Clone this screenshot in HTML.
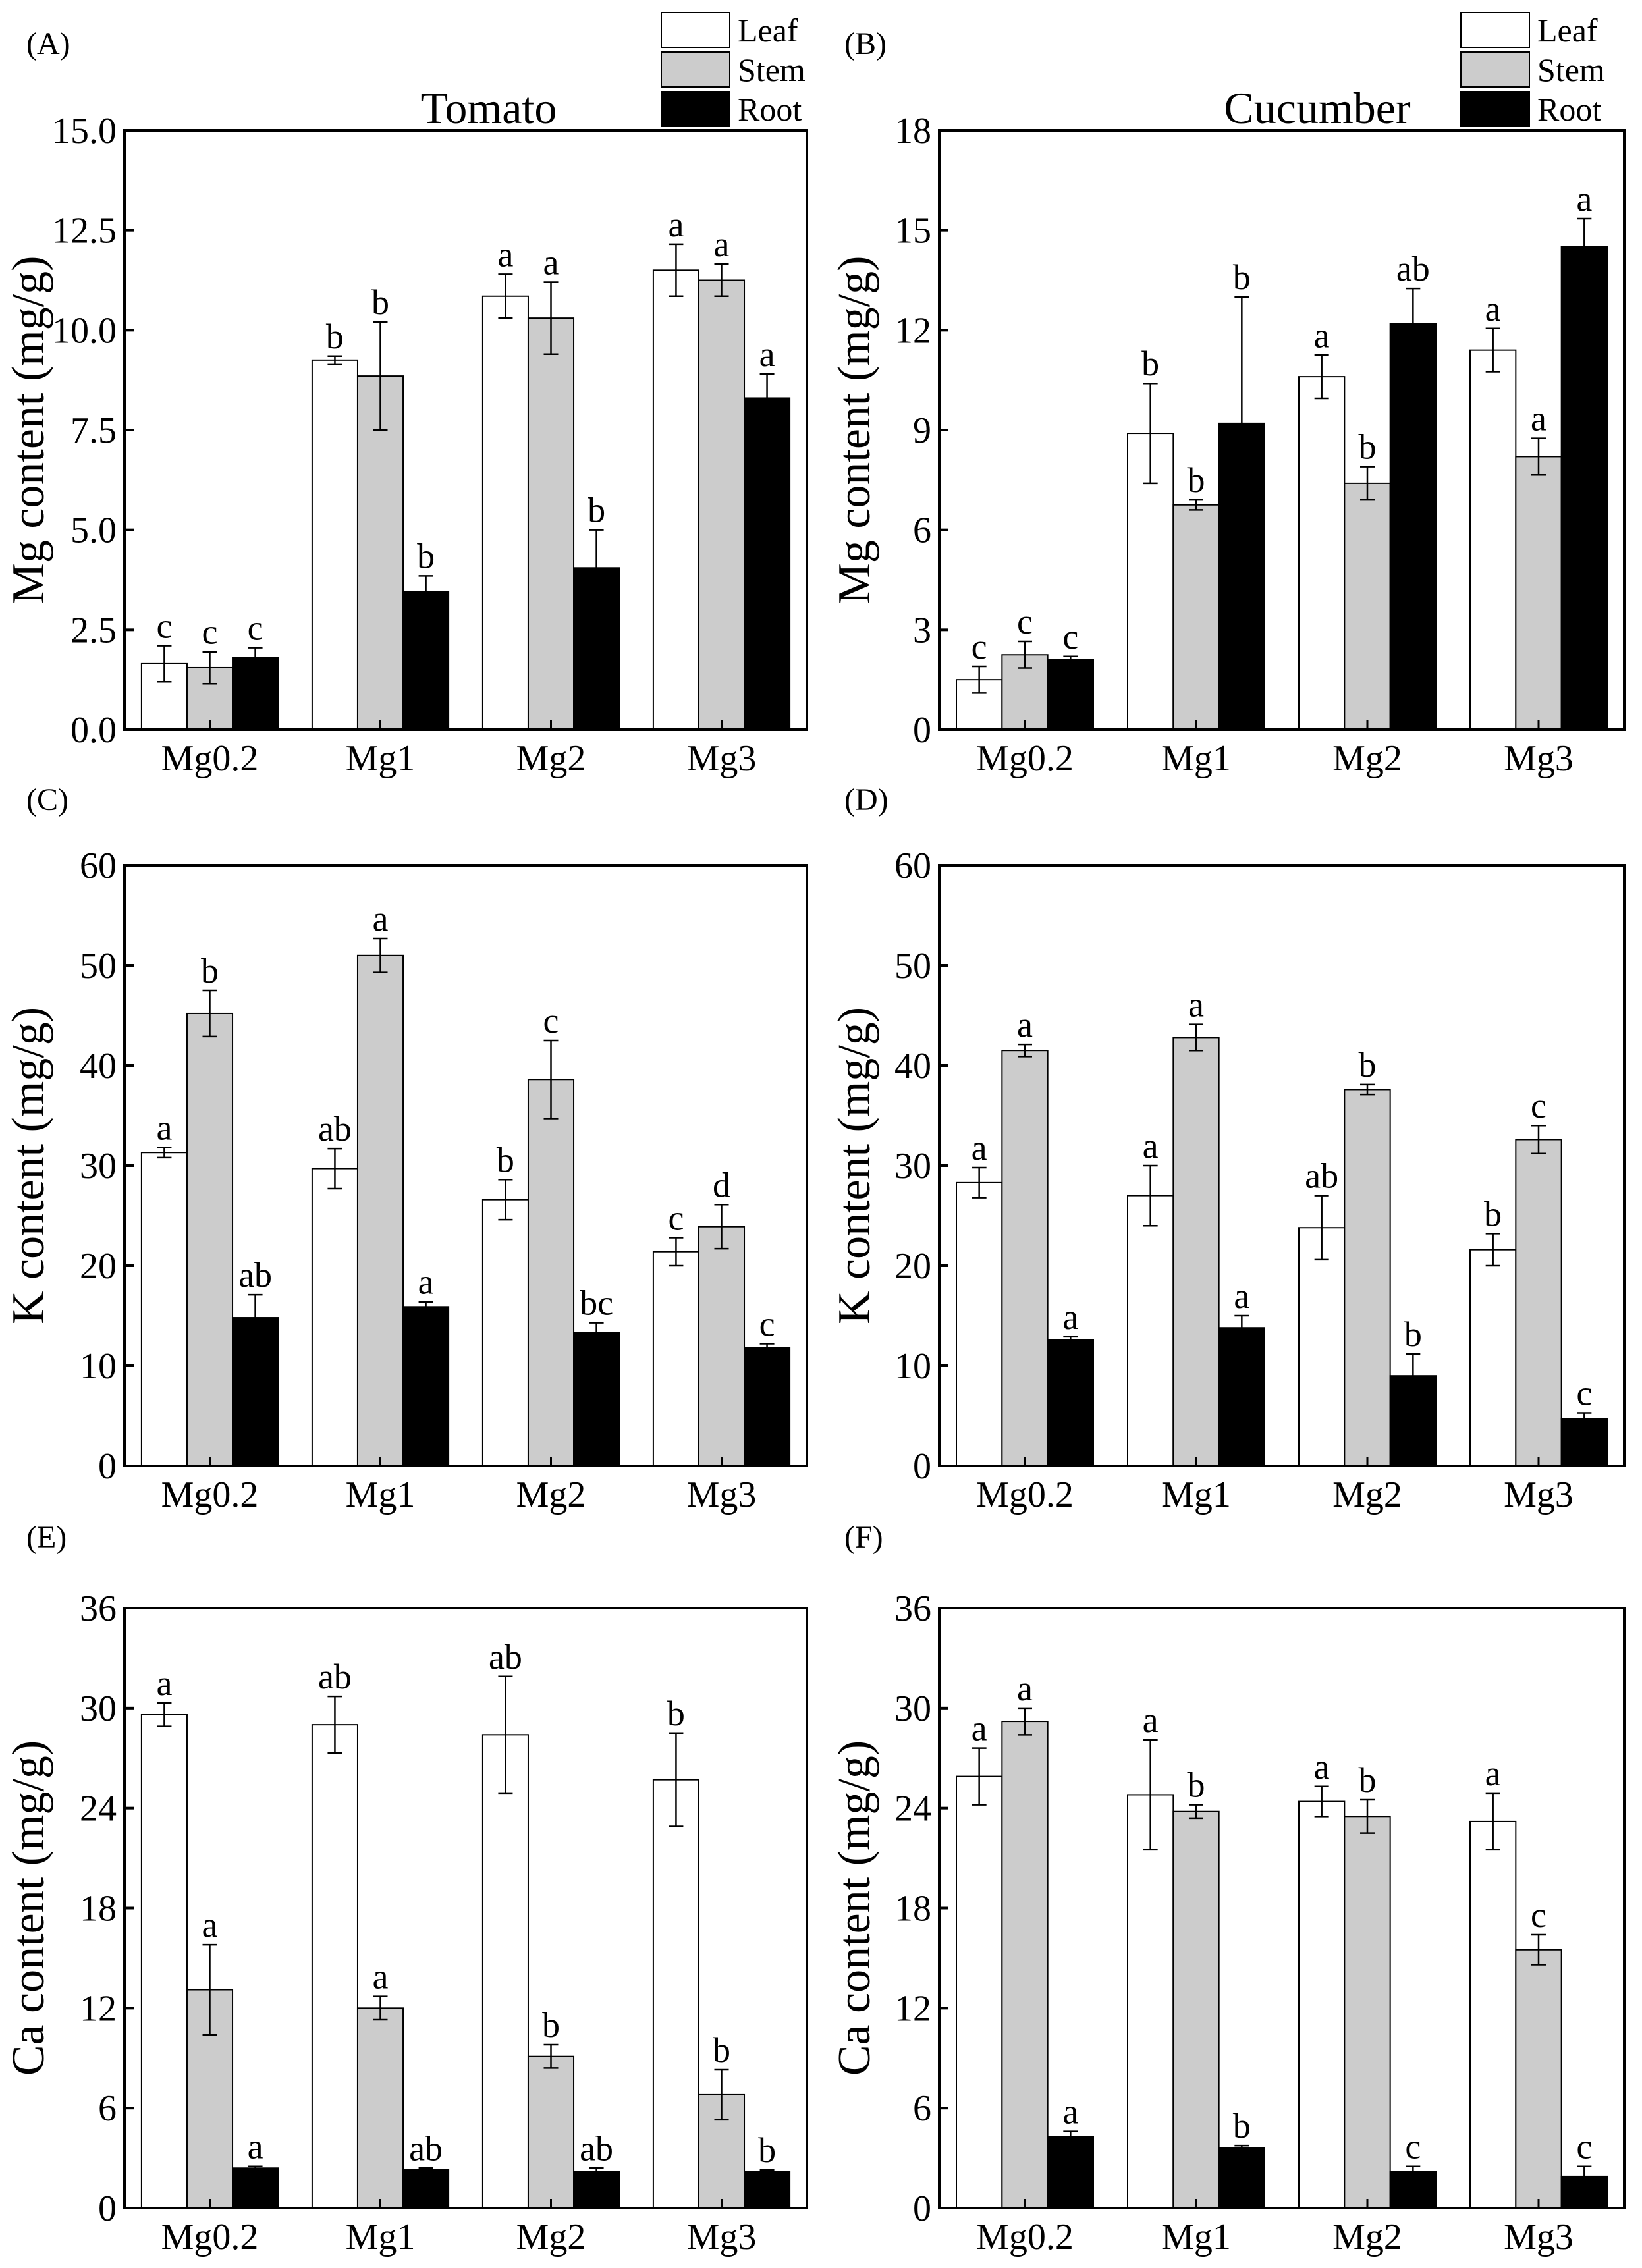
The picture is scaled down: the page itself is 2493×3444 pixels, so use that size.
<!DOCTYPE html>
<html><head><meta charset="utf-8"><style>
html,body{margin:0;padding:0;background:#fff}
svg, svg text{font-family:"Liberation Serif","Times New Roman",Times,serif}
</style></head><body>
<svg id="fig" width="2493" height="3439" viewBox="0 0 2493 3439" xmlns="http://www.w3.org/2000/svg" font-family="Liberation Serif, Times New Roman, serif"></svg>
<script>
const categories = ["Mg0.2","Mg1","Mg2","Mg3"];
const seriesNames = ["Leaf","Stem","Root"];
// Panel A: Tomato Mg
const aLeaf=[1.65,9.25,10.85,11.5], aLeafErr=[0.45,0.1,0.55,0.65];
const aStem=[1.55,8.85,10.3,11.25], aStemErr=[0.4,1.35,0.9,0.4];
const aRoot=[1.8,3.45,4.05,8.3], aRootErr=[0.25,0.4,0.95,0.6];
const aLetters=[["c","b","a","a"],["c","b","a","a"],["c","b","b","a"]];
const aTicks=["0.0","2.5","5.0","7.5","10.0","12.5","15.0"];
// Panel B: Cucumber Mg
const bLeaf=[1.5,8.9,10.6,11.4], bLeafErr=[0.4,1.5,0.65,0.65];
const bStem=[2.25,6.75,7.4,8.2], bStemErr=[0.4,0.15,0.5,0.55];
const bRoot=[2.1,9.2,12.2,14.5], bRootErr=[0.1,3.8,1.05,0.85];
const bLetters=[["c","b","a","a"],["c","b","b","a"],["c","b","ab","a"]];
const bTicks=["0","3","6","9","12","15","18"];
// Panel C: Tomato K
const cLeaf=[31.3,29.7,26.6,21.4], cLeafErr=[0.5,2.0,2.0,1.4];
const cStem=[45.2,51.0,38.6,23.9], cStemErr=[2.3,1.7,3.9,2.2];
const cRoot=[14.8,15.9,13.3,11.8], cRootErr=[2.3,0.5,1.0,0.4];
const cLetters=[["a","ab","b","c"],["b","a","c","d"],["ab","a","bc","c"]];
const cTicks=["0","10","20","30","40","50","60"];
// Panel D: Cucumber K
const dLeaf=[28.3,27.0,23.8,21.6], dLeafErr=[1.5,3.0,3.2,1.6];
const dStem=[41.5,42.8,37.6,32.6], dStemErr=[0.6,1.3,0.5,1.4];
const dRoot=[12.6,13.8,9.0,4.7], dRootErr=[0.3,1.2,2.2,0.6];
const dLetters=[["a","a","ab","b"],["a","a","b","c"],["a","a","b","c"]];
const dTicks=["0","10","20","30","40","50","60"];
// Panel E: Tomato Ca
const eLeaf=[29.6,29.0,28.4,25.7], eLeafErr=[0.7,1.7,3.5,2.8];
const eStem=[13.1,12.0,9.1,6.8], eStemErr=[2.7,0.7,0.7,1.5];
const eRoot=[2.4,2.3,2.2,2.2], eRootErr=[0.1,0.1,0.2,0.1];
const eLetters=[["a","ab","ab","b"],["a","a","b","b"],["a","ab","ab","b"]];
const eTicks=["0","6","12","18","24","30","36"];
// Panel F: Cucumber Ca
const fLeaf=[25.9,24.8,24.4,23.2], fLeafErr=[1.7,3.3,0.9,1.7];
const fStem=[29.2,23.8,23.5,15.5], fStemErr=[0.8,0.4,1.0,0.9];
const fRoot=[4.3,3.6,2.2,1.9], fRootErr=[0.3,0.15,0.3,0.6];
const fLetters=[["a","a","a","a"],["a","b","b","c"],["a","b","c","c"]];
const fTicks=["0","6","12","18","24","30","36"];

const NS="http://www.w3.org/2000/svg";
const svg=document.getElementById('fig');
const fills=["#ffffff","#cccccc","#000000"];
const FF="Liberation Serif, Times New Roman, serif";
function mk(tag,attrs,parent,text){
  const e=document.createElementNS(NS,tag);
  for(const k in attrs) e.setAttribute(k,attrs[k]);
  if(tag==='text') e.setAttribute('font-family',FF);
  if(text!==undefined) e.textContent=text;
  (parent||svg).appendChild(e); return e;
}
function panel(o){
  const g=mk('g',{});
  
  
  const x0=o.x0,x1=o.x1,y0=o.y0,y1=o.y1;
  const ymax=parseFloat(o.ticks[o.ticks.length-1]);
  const yS=v=>y1-(v/ymax)*(y1-y0);
  const gw=(x1-x0)/categories.length, bw=gw*0.8/3;
  const xS=(ci,si)=>x0+gw*ci+gw*0.1+bw*si;
  const data=[o.leaf,o.stem,o.root], errs=[o.leafErr,o.stemErr,o.rootErr];
  for(let si=0;si<3;si++){
    for(let ci=0;ci<categories.length;ci++){
      const v=data[si][ci], e=errs[si][ci];
      const bx=xS(ci,si), by=yS(v);
      const r=mk('rect',{x:bx,y:by,width:bw,height:y1-by,fill:fills[si],stroke:'#000','stroke-width':2},g);
      
      
      const cx=bx+bw/2, yt=yS(v+e), yb=yS(Math.max(0,v-e));
      const eb=mk('path',{d:`M${cx},${yt}V${yb}M${cx-11},${yt}H${cx+11}M${cx-11},${yb}H${cx+11}`,stroke:'#000','stroke-width':2.5,fill:'none'},g);
      
      
      const t=mk('text',{x:cx,y:yt-12,'text-anchor':'middle','font-size':54},g,o.letters[si][ci]);
      
      
    }
  }
  const ax=mk('rect',{x:x0,y:y0,width:x1-x0,height:y1-y0,fill:'none',stroke:'#000','stroke-width':4},g);
  
  
  o.ticks.forEach(tk=>{
    const yy=yS(parseFloat(tk));
    mk('line',{x1:x0,x2:x0+14,y1:yy,y2:yy,stroke:'#000','stroke-width':4},g);
    const t=mk('text',{x:x0-12,y:yy+19,'text-anchor':'end','font-size':56},g,tk);
    
    
  });
  categories.forEach((c,ci)=>{
    const cx=x0+gw*ci+gw/2;
    mk('line',{x1:cx,x2:cx,y1:y1,y2:y1-14,stroke:'#000','stroke-width':3},g);
    const t=mk('text',{x:cx,y:y1+62,'text-anchor':'middle','font-size':56},g,c);
    
    
  });
  const yt=mk('text',{x:0,y:0,'text-anchor':'middle','font-size':70,transform:`translate(${o.ytx},${(y0+y1)/2}) rotate(-90)`},g,o.ytitle);
  
  
  const pl=mk('text',{x:o.lx,y:o.ly,'font-size':48},g,o.label);
  
  
  if(o.title){
    const tt=mk('text',{x:o.tx,y:187,'text-anchor':'middle','font-size':68},g,o.title);
    
    
  }
  if(o.legx){
    const lg=mk('g',{},g);
    
    
    seriesNames.forEach((s,si)=>{
      const yy=19+si*60;
      const it=mk('g',{},lg);
      
      
      mk('rect',{x:o.legx,y:yy,width:104,height:53,fill:fills[si],stroke:'#000','stroke-width':2},it);
      mk('text',{x:o.legx+116,y:yy+44,'font-size':50},it,s);
    });
  }
}
const colA={x0:189,x1:1225,ytx:66,lx:40,tx:742};
const colB={x0:1426,x1:2466,ytx:1320,lx:1282,tx:2000};
const rows=[{y0:198,y1:1108,ly:82},{y0:1314,y1:2226,ly:1230},{y0:2442,y1:3353,ly:2350}];
panel(Object.assign({},colA,rows[0],{name:'panel-a',label:'(A)',title:'Tomato',legx:1004,ytitle:'Mg content (mg/g)',ticks:aTicks,leaf:aLeaf,leafErr:aLeafErr,stem:aStem,stemErr:aStemErr,root:aRoot,rootErr:aRootErr,letters:aLetters}));
panel(Object.assign({},colB,rows[0],{name:'panel-b',label:'(B)',title:'Cucumber',legx:2218,ytitle:'Mg content (mg/g)',ticks:bTicks,leaf:bLeaf,leafErr:bLeafErr,stem:bStem,stemErr:bStemErr,root:bRoot,rootErr:bRootErr,letters:bLetters}));
panel(Object.assign({},colA,rows[1],{name:'panel-c',label:'(C)',ytitle:'K content (mg/g)',ticks:cTicks,leaf:cLeaf,leafErr:cLeafErr,stem:cStem,stemErr:cStemErr,root:cRoot,rootErr:cRootErr,letters:cLetters}));
panel(Object.assign({},colB,rows[1],{name:'panel-d',label:'(D)',ytitle:'K content (mg/g)',ticks:dTicks,leaf:dLeaf,leafErr:dLeafErr,stem:dStem,stemErr:dStemErr,root:dRoot,rootErr:dRootErr,letters:dLetters}));
panel(Object.assign({},colA,rows[2],{name:'panel-e',label:'(E)',ytitle:'Ca content (mg/g)',ticks:eTicks,leaf:eLeaf,leafErr:eLeafErr,stem:eStem,stemErr:eStemErr,root:eRoot,rootErr:eRootErr,letters:eLetters}));
panel(Object.assign({},colB,rows[2],{name:'panel-f',label:'(F)',ytitle:'Ca content (mg/g)',ticks:fTicks,leaf:fLeaf,leafErr:fLeafErr,stem:fStem,stemErr:fStemErr,root:fRoot,rootErr:fRootErr,letters:fLetters}));
</script>
</body></html>
